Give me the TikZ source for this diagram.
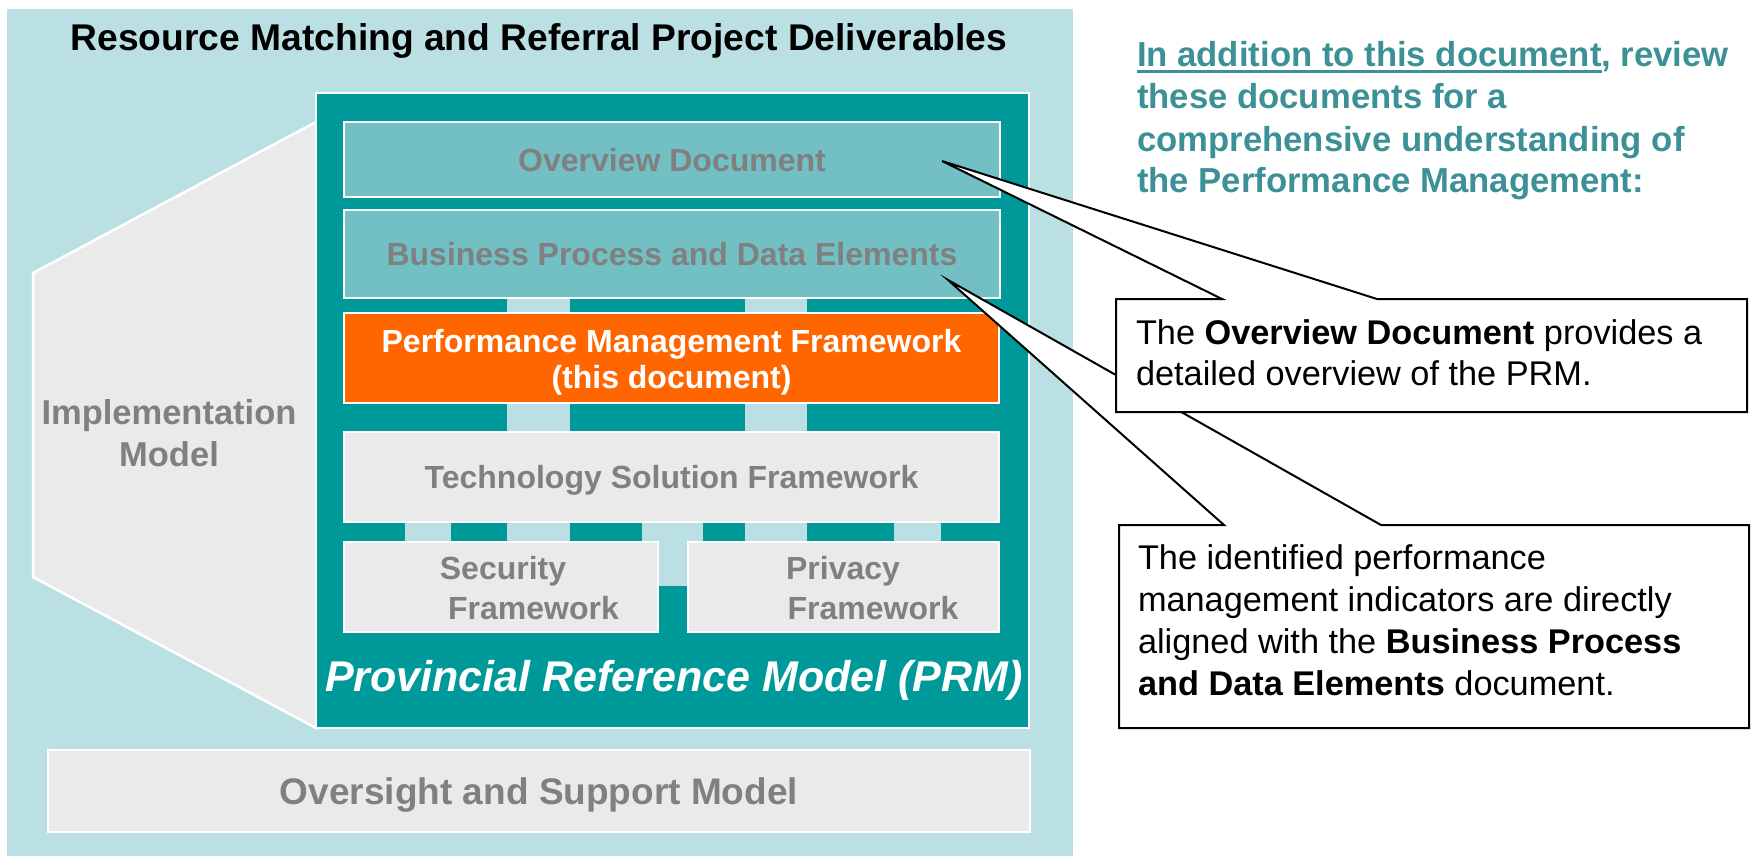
\documentclass[tikz,border=0pt]{standalone}
\usepackage{fontspec}
\setmainfont{Liberation Sans}
\definecolor{panelblue}{HTML}{BBE0E3}
\definecolor{prmteal}{HTML}{009999}
\definecolor{ovfill}{HTML}{72BFC4}
\definecolor{lgray}{HTML}{EAEAEA}
\definecolor{gtext}{HTML}{808080}
\definecolor{pmforange}{HTML}{FF6600}
\definecolor{headteal}{HTML}{3C9196}
\begin{document}
\begin{tikzpicture}[x=1pt,y=-1pt,
  every node/.style={inner sep=0pt, outer sep=0pt},
  blk/.style={draw=white, line width=2.5pt, anchor=north west},
  gtxt/.style={text=gtext, font=\fontsize{32}{36}\selectfont\bfseries},
  one/.style={text height=23pt, text depth=0pt},
  wtxt/.style={text=white, font=\fontsize{32}{36}\selectfont\bfseries, anchor=base},
  headtxt/.style={text=headteal, font=\fontsize{34.7}{41}\selectfont\bfseries, anchor=base west},
  calltxt/.style={text=black, font=\fontsize{34.3}{41}\selectfont, anchor=base west},
  callout/.style={fill=white, draw=black, line width=2pt, line join=miter},
  strip/.style={fill=panelblue}]
\useasboundingbox (0,0) rectangle (1755,856);

% background panel
\node[fill=panelblue, minimum width=1066, minimum height=847, anchor=north west] (panel) at (7,9) {};

% title
\node[font=\fontsize{37.2}{42}\selectfont\bfseries, anchor=base] (title) at (539,51)
  {Resource Matching and Referral Project Deliverables};

% implementation model shape
\filldraw[fill=lgray, draw=white, line width=2.5pt] (316,122) -- (33,273) -- (33,577) -- (316,728) -- cycle;
\node[gtxt, font=\fontsize{34.5}{40}\selectfont\bfseries, anchor=base] (impl1) at (169,424) {Implementation};
\node[gtxt, font=\fontsize{34.5}{40}\selectfont\bfseries, anchor=base] (impl2) at (169,466) {Model};

% PRM box
\node[blk, fill=prmteal, minimum width=713, minimum height=635] (prm) at (316,93) {};

% light blue connector strips
\foreach \a/\b/\c/\d in {507/298/570/432, 745/298/807/432, 405/522/451/542, 507/522/570/542,
                         642/522/703/586, 745/522/807/542, 894/522/941/542}
  \fill[strip] (\a,\b) rectangle (\c,\d);

% inner boxes
\node[blk, fill=ovfill, minimum width=656, minimum height=75, gtxt, one] (ov) at (344,122) {Overview Document};
\node[blk, fill=ovfill, minimum width=656, minimum height=88, gtxt, one] (bp) at (344,210) {Business Process and Data Elements};
\node[blk, fill=pmforange, minimum width=655, minimum height=90] (pmf) at (344,313) {};
\node[wtxt] (pmf1) at (671.5,352) {Performance Management Framework};
\node[wtxt] (pmf2) at (671.5,388) {(this document)};
\node[blk, fill=lgray, minimum width=655, minimum height=90, gtxt, one] (tsf) at (344,432) {Technology Solution Framework};
\node[blk, fill=lgray, minimum width=314, minimum height=90] (sec) at (344,542) {};
\node[blk, fill=lgray, minimum width=311, minimum height=90] (pri) at (688,542) {};
\node[gtxt, anchor=base] (sec1) at (503,579) {Security};
\node[gtxt, anchor=base] (sec2) at (533.5,619) {Framework};
\node[gtxt, anchor=base] (pri1) at (843,579) {Privacy};
\node[gtxt, anchor=base] (pri2) at (873,619) {Framework};

% PRM label
\node[text=white, font=\fontsize{43}{48}\selectfont\bfseries\itshape, anchor=base] (prmlabel) at (674,691)
  {Provincial Reference Model (PRM)};

% oversight
\node[blk, fill=lgray, minimum width=982, minimum height=82, text=gtext,
      font=\fontsize{37}{42}\selectfont\bfseries, text height=26.5pt, text depth=0pt] (osm) at (48,750) {Oversight and Support Model};

% heading on the right
\node[headtxt] (h1a) at (1137,67) {In addition to this document};
\node[headtxt] (h1b) at (h1a.base east) {, review};
\draw[headteal, line width=3pt] ([yshift=-5pt]h1a.base west) -- ([yshift=-5pt]h1a.base east);
\node[headtxt] (h2) at (1137,109) {these documents for a};
\node[headtxt] (h3) at (1137,151) {comprehensive understanding of};
\node[headtxt] (h4) at (1137,192) {the Performance Management:};

% callout 2 (business process)
\node[anchor=north west, minimum width=630, minimum height=203] (cb2) at (1119,525) {};
\coordinate (t2) at (948,280);
\path[callout] (cb2.north west) -- ([xshift=105pt]cb2.north west) -- (t2) -- ([xshift=262pt]cb2.north west)
  -- (cb2.north east) -- (cb2.south east) -- (cb2.south west) -- cycle;
\node[calltxt] (c2a) at (1138,569) {The identified performance};
\node[calltxt] (c2b) at (1138,611) {management indicators are directly};
\node[calltxt] (c2c) at (1138,653) {aligned with the \textbf{Business Process}};
\node[calltxt] (c2d) at (1138,695) {\textbf{and Data Elements} document.};

% callout 1 (overview)
\node[anchor=north west, minimum width=631, minimum height=113] (cb1) at (1116,299) {};
\coordinate (t1) at (942,161);
\path[callout] (cb1.north west) -- ([xshift=106pt]cb1.north west) -- (t1) -- ([xshift=261pt]cb1.north west)
  -- (cb1.north east) -- (cb1.south east) -- (cb1.south west) -- cycle;
\node[calltxt] (c1a) at (1136,344) {The \textbf{Overview Document} provides a};
\node[calltxt] (c1b) at (1136,385) {detailed overview of the PRM.};
\end{tikzpicture}
\end{document}
